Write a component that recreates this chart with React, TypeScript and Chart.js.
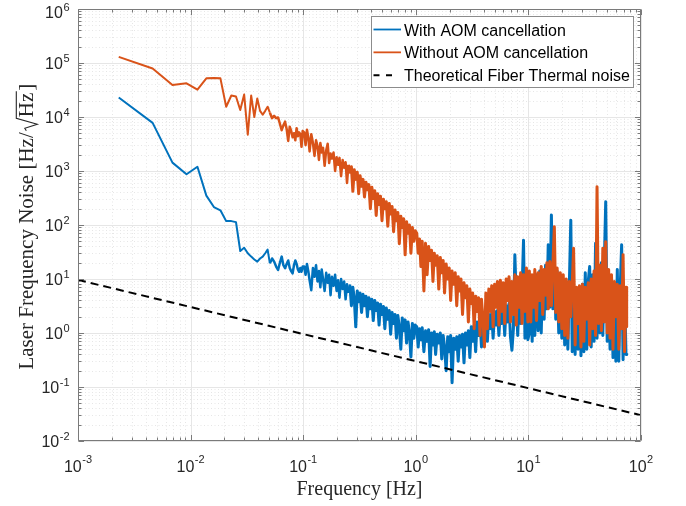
import React, { useEffect, useRef } from "react";
import { Chart, registerables } from "chart.js";

Chart.register(...registerables);

// ---------- data ----------
const freqHz = [
  0.0023, 0.0046, 0.0069, 0.0092, 0.0115, 0.0138, 0.0161, 0.0184, 0.0207, 0.023,
  0.0253, 0.0276, 0.0299, 0.0322, 0.0345, 0.0368, 0.0391, 0.0414, 0.0437, 0.046,
  0.0483, 0.0506, 0.0529, 0.0552, 0.0575, 0.0598, 0.0621, 0.0644, 0.0667, 0.069,
  0.0713, 0.0736, 0.0759, 0.0782, 0.0805, 0.0828, 0.0851, 0.0874, 0.0897, 0.092,
  0.0943, 0.0966, 0.0989,
  0.102, 0.105, 0.108, 0.111, 0.114, 0.118, 0.122, 0.126, 0.13, 0.134, 0.138, 0.142, 0.146, 0.15,
  0.155, 0.16, 0.165, 0.17, 0.175, 0.18, 0.186, 0.192, 0.198, 0.204, 0.21, 0.217, 0.224, 0.231,
  0.238, 0.245, 0.252, 0.26, 0.268, 0.276, 0.284, 0.293, 0.302, 0.311, 0.32, 0.33, 0.34, 0.35,
  0.361, 0.372, 0.383, 0.395, 0.407, 0.419, 0.432, 0.445, 0.458, 0.472, 0.486, 0.501, 0.516,
  0.531, 0.547, 0.564, 0.581, 0.598, 0.616, 0.635, 0.654, 0.673, 0.693, 0.714, 0.736, 0.758,
  0.78, 0.804, 0.828, 0.853, 0.878, 0.905, 0.932, 0.96, 0.989,
  1.02, 1.05, 1.08, 1.11, 1.14, 1.18, 1.22, 1.26, 1.3, 1.34, 1.38, 1.42, 1.46, 1.5,
  1.55, 1.6, 1.65, 1.7, 1.75, 1.8, 1.86, 1.92, 1.98, 2.04, 2.1, 2.17, 2.24, 2.31,
  2.38, 2.45, 2.52, 2.6, 2.68, 2.76, 2.84, 2.93, 3.02, 3.11, 3.2, 3.3, 3.4, 3.5,
  3.61, 3.72, 3.83, 3.95, 4.07, 4.19, 4.32, 4.45, 4.58, 4.72, 4.86, 5.01, 5.16,
  5.31, 5.47, 5.64, 5.81, 5.98, 6.16, 6.35, 6.54, 6.73, 6.93, 7.14, 7.36, 7.58,
  7.8, 8.04, 8.28, 8.53, 8.78, 9.05, 9.32, 9.6, 9.89,
  10.2, 10.5, 10.8, 11.1, 11.4, 11.8, 12.2, 12.6, 13, 13.4, 13.8, 14.2, 14.6, 15,
  15.5, 16, 16.5, 17, 17.5, 18, 18.6, 19.2, 19.8, 20.4, 21, 21.7, 22.4, 23.1,
  23.8, 24.5, 25.2, 26, 26.8, 27.6, 28.4, 29.3, 30.2, 31.1, 32, 33, 34, 35,
  36.1, 37.2, 38.3, 39.5, 40.7, 41.9, 43.2, 44.5, 45.8, 47.2, 48.6, 50.1, 51.6,
  53.1, 54.7, 56.4, 58.1, 59.8, 61.6, 63.5, 65.4, 67.3, 69.3, 71.4, 73.6, 74.6,
];

const withAom = [
  2.3e4, 7.8e3, 1.43e3, 870, 1.2e3, 350, 215, 187, 118, 118,
  113, 33, 38, 30, 26, 23, 21, 24, 26, 30,
  35, 19.5, 24, 21, 17, 14.7, 20, 26, 18, 15.8,
  19, 22, 16, 14, 12.7, 18, 22, 19, 15, 13.6,
  16, 13.6, 17,
  17, 12, 19, 14, 9.5, 6.2, 16, 11, 18, 9,
  14, 7, 15, 10, 6, 13, 8.5, 12, 5, 11,
  7.5, 12, 6, 9.5, 4.5, 10, 6.5, 9, 4.2, 8,
  5.5, 7.5, 3.2, 7, 4.5, 1.3, 6, 3.8, 5.5, 2.4,
  5.2, 3.2, 4.8, 2, 4.5, 2.8, 4.2, 1.7, 4, 2.6,
  3.6, 1.4, 3.4, 2.2, 3.1, 1.2, 2.9, 1.8, 2.6, 0.95,
  2.4, 1.5, 2.2, 0.8, 2.1, 1.3, 0.5, 1.9, 1.1, 1.75,
  0.65, 1.6, 1, 0.36, 1.5, 0.8, 1.4,
  1.3, 0.55, 1.2, 0.75, 1.25, 0.45, 1.1, 0.7, 1.15, 0.24,
  1.0, 0.6, 1.05, 0.4, 0.95, 0.65, 1.0, 0.33, 0.9, 0.55,
  0.2, 0.85, 0.45, 0.9, 0.12, 0.8, 0.5, 0.85, 0.3, 0.9,
  0.55, 0.95, 0.28, 1.0, 0.6, 1.1, 0.35, 1.3, 0.7, 1.4,
  0.45, 1.6, 0.9, 1.7, 0.55, 1.9, 1.1, 2.0, 0.7, 2.2,
  1.2, 2.3, 0.8, 2.5, 1.4, 2.6, 0.9, 2.8, 1.5, 3.0,
  0.9, 3.2, 1.6, 3.5, 0.85, 0.48, 1.2, 28, 4.5, 0.9,
  5, 1.5, 6, 52, 0.8, 7, 0.75,
  1.0, 9, 0.7, 11, 0.9, 12, 1.1, 14, 1.0, 13,
  1.8, 18, 2.8, 43, 3.0, 153, 2.8, 19, 1.8, 14,
  1.0, 12, 0.8, 10, 0.6, 9, 0.5, 8, 123, 0.45,
  7, 0.4, 6.5, 0.5, 7, 0.38, 8, 0.45, 13, 0.5,
  9, 17, 0.55, 12, 0.7, 46, 0.8, 16, 1.0, 20,
  0.9, 18, 270, 0.7, 11, 0.5, 9, 0.35, 8, 0.3,
  15, 0.3, 7, 43, 0.32, 6, 0.4, 0.42,
];

const withoutAom = [
  1.3e5, 7.9e4, 3.9e4, 4.2e4, 3.2e4, 5.2e4, 5.3e4, 5.2e4, 1.55e4, 2.5e4,
  2.4e4, 1.35e4, 2.6e4, 4.7e3, 2.5e4, 1.0e4, 2.2e4, 1.3e4, 1.1e4, 1.3e4,
  1.55e4, 1.2e4, 9.5e3, 1.05e4, 9.5e3, 9.8e3, 7.5e3, 5.7e3, 7e3, 8.2e3,
  6e3, 3.6e3, 6.6e3, 5.5e3, 4.2e3, 5e3, 3.7e3, 6.2e3, 4.4e3, 5.2e3,
  4.8e3, 2.8e3, 5.5e3,
  5200, 3000, 5800, 4200, 2300, 4800, 3300, 1900, 3700, 2900,
  1600, 3300, 2200, 2700, 1250, 2400, 3200, 1400, 2100, 1700,
  2200, 1000, 1800, 1300, 1750, 800, 1600, 1150, 1450, 600,
  1300, 950, 1200, 420, 1050, 700, 950, 380, 820, 520,
  700, 330, 620, 450, 560, 200, 500, 310, 430, 150,
  380, 240, 340, 120, 300, 200, 270, 95, 250, 160,
  220, 75, 190, 120, 170, 45, 145, 90, 130, 28,
  115, 70, 100, 30, 90, 50, 78,
  70, 30, 55, 17, 50, 6, 46, 12, 40, 22,
  34, 9, 30, 18, 27, 6.5, 25, 13, 22, 5.5,
  19, 10, 16, 4, 14, 8, 13, 3.2, 11, 6,
  10, 2.2, 8.5, 4.5, 7.5, 1.6, 6.5, 3.5, 5.5, 1.2,
  4.8, 2.5, 4.5, 0.9, 4.2, 1.8, 0.55, 5.5, 1.2, 6.5,
  2.5, 7.5, 1.3, 8, 3, 9, 1.4, 9.5, 2.5, 8.5,
  1.5, 10, 4, 11, 1.6, 9, 2.2, 12, 1.4, 11,
  3, 13, 1.5, 12, 2.5, 16, 1.6,
  14, 1.6, 12, 3, 15, 1.7, 13, 4, 17, 2.2,
  15, 5, 20, 2.8, 21, 3.2, 19, 93, 2.4, 16,
  1.6, 13, 1.2, 12, 0.9, 10, 0.8, 9, 2, 8,
  37, 0.6, 7, 1.5, 7.5, 0.55, 8, 0.7, 7, 1.8,
  8.5, 0.6, 10, 1.2, 14, 0.9, 510, 1.5, 18, 1.1,
  37, 1.6, 49, 1, 15, 0.8, 12, 0.5, 9, 2,
  8, 0.5, 7.5, 1.2, 28, 0.45, 7, 1.3,
];

const thermalFreqHz = [0.001, 100];
const thermalNoise = [9.6, 0.03];

const seriesNames = [
  "With AOM cancellation",
  "Without AOM cancellation",
  "Theoretical Fiber Thermal noise",
];
const seriesColors = ["#0072BD", "#D95319", "#000000"];

const xTickValues = [1e-3, 1e-2, 1e-1, 1, 10, 100];
const xTickExponents = ["-3", "-2", "-1", "0", "1", "2"];
const yTickValues = [1e-2, 1e-1, 1, 10, 100, 1e3, 1e4, 1e5, 1e6];
const yTickExponents = ["-2", "-1", "0", "1", "2", "3", "4", "5", "6"];
const tickBase = "10";
const xTitle = "Frequency [Hz]";
const yTitleLead = "Laser Frequency Noise [Hz/";
const yTitleRoot = "Hz";
const yTitleTail = "]";

// ---------- styling ----------
const SANS = '"Liberation Sans", Arial, Helvetica, sans-serif';
const SERIF = '"Liberation Serif", "Times New Roman", serif';
const AXIS_COLOR = "#7a7a7a";
const TEXT_COLOR = "#262626";

// dense FFT noise reads as a thick band: stroke it wider where the spectrum is dense
const noiseWidth = (ctx: any) => {
  const f = ctx.p0.parsed.x;
  if (f < 0.05) return 2.0;
  if (f < 0.25) return 2.5;
  return 3.0;
};

function minorValues(majors: number[]) {
  const out: number[] = [];
  for (let i = 0; i < majors.length - 1; i++) {
    for (let m = 2; m <= 9; m++) out.push(m * majors[i]);
  }
  return out;
}

const matlabAxes = {
  id: "matlabAxes",
  beforeDatasetsDraw(chart: any) {
    const { ctx, chartArea: a, scales } = chart;
    const xs = scales.x;
    const ys = scales.y;
    ctx.save();
    ctx.lineWidth = 1;
    ctx.strokeStyle = "#e6e6e6";
    ctx.setLineDash([1, 2.5]);
    ctx.beginPath();
    for (const v of minorValues(xTickValues)) {
      const p = Math.round(xs.getPixelForValue(v)) + 0.5;
      ctx.moveTo(p, a.top);
      ctx.lineTo(p, a.bottom);
    }
    for (const v of minorValues(yTickValues)) {
      const p = Math.round(ys.getPixelForValue(v)) + 0.5;
      ctx.moveTo(a.left, p);
      ctx.lineTo(a.right, p);
    }
    ctx.stroke();
    ctx.setLineDash([]);
    ctx.strokeStyle = "#e6e6e6";
    ctx.beginPath();
    for (const v of xTickValues) {
      const p = Math.round(xs.getPixelForValue(v)) + 0.5;
      ctx.moveTo(p, a.top);
      ctx.lineTo(p, a.bottom);
    }
    for (const v of yTickValues) {
      const p = Math.round(ys.getPixelForValue(v)) + 0.5;
      ctx.moveTo(a.left, p);
      ctx.lineTo(a.right, p);
    }
    ctx.stroke();
    ctx.restore();
  },
  afterDraw(chart: any) {
    const { ctx, chartArea: a, scales } = chart;
    const xs = scales.x;
    const ys = scales.y;
    const L = Math.round(a.left) + 0.5;
    const R = Math.round(a.right) - 0.5;
    const T = Math.round(a.top) + 0.5;
    const B = Math.round(a.bottom) - 0.5;
    ctx.save();

    ctx.strokeStyle = AXIS_COLOR;
    ctx.lineWidth = 1;
    ctx.setLineDash([]);
    ctx.beginPath();
    ctx.rect(L, T, R - L, B - T);
    const tick = (vals: number[], len: number) => {
      for (const v of vals) {
        const px = Math.round(xs.getPixelForValue(v)) + 0.5;
        ctx.moveTo(px, B);
        ctx.lineTo(px, B - len);
        ctx.moveTo(px, T);
        ctx.lineTo(px, T + len);
      }
    };
    const tickY = (vals: number[], len: number) => {
      for (const v of vals) {
        const py = Math.round(ys.getPixelForValue(v)) + 0.5;
        ctx.moveTo(L, py);
        ctx.lineTo(L + len, py);
        ctx.moveTo(R, py);
        ctx.lineTo(R - len, py);
      }
    };
    tick(xTickValues, 5.5);
    tick(minorValues(xTickValues), 3);
    tickY(yTickValues, 5.5);
    tickY(minorValues(yTickValues), 3);
    ctx.stroke();

    ctx.fillStyle = TEXT_COLOR;
    ctx.textBaseline = "alphabetic";
    ctx.textAlign = "left";
    const baseFont = `16px ${SANS}`;
    const expFont = `11px ${SANS}`;
    xTickValues.forEach((v, i) => {
      const px = xs.getPixelForValue(v);
      ctx.font = baseFont;
      const w1 = ctx.measureText(tickBase).width;
      ctx.font = expFont;
      const w2 = ctx.measureText(xTickExponents[i]).width;
      const left = px - (w1 + w2 + 0.5) / 2;
      ctx.font = baseFont;
      ctx.fillText(tickBase, left, a.bottom + 30.7);
      ctx.font = expFont;
      ctx.fillText(xTickExponents[i], left + w1 + 0.5, a.bottom + 22.3);
    });
    yTickValues.forEach((v, i) => {
      const py = ys.getPixelForValue(v);
      ctx.font = baseFont;
      const w1 = ctx.measureText(tickBase).width;
      ctx.font = expFont;
      const w2 = ctx.measureText(yTickExponents[i]).width;
      const right = a.left - 8.5;
      const left = right - w1 - w2 - 0.5;
      let baseY = py + 6.3;
      let expY = py - 1.3;
      const shift = Math.max(0, 2.7 - (expY - 8));
      baseY += shift;
      expY += shift;
      ctx.font = baseFont;
      ctx.fillText(tickBase, left, baseY);
      ctx.font = expFont;
      ctx.fillText(yTickExponents[i], left + w1 + 0.5, expY);
    });

    ctx.font = `20px ${SERIF}`;
    ctx.textAlign = "center";
    ctx.fillText(xTitle, (a.left + a.right) / 2, a.bottom + 54);

    ctx.save();
    ctx.translate(33.3, (a.top + a.bottom) / 2 + 1.7);
    ctx.rotate(-Math.PI / 2);
    ctx.textAlign = "left";
    ctx.font = `21px ${SERIF}`;
    const wLead = ctx.measureText(yTitleLead).width;
    const wRoot = ctx.measureText(yTitleRoot).width;
    const wTail = ctx.measureText(yTitleTail).width;
    const radW = 15;
    const total = wLead + radW + wRoot + 2 + wTail;
    let x0 = -total / 2;
    ctx.fillText(yTitleLead, x0, 0);
    x0 += wLead;
    ctx.strokeStyle = TEXT_COLOR;
    ctx.lineWidth = 1.1;
    ctx.beginPath();
    ctx.moveTo(x0 + 1.5, -7);
    ctx.lineTo(x0 + 4, -8.5);
    ctx.lineTo(x0 + 8, 4);
    ctx.lineTo(x0 + 14, -17);
    ctx.lineTo(x0 + radW + wRoot + 1.5, -17);
    ctx.stroke();
    x0 += radW;
    ctx.fillText(yTitleRoot, x0, 0);
    x0 += wRoot + 2;
    ctx.fillText(yTitleTail, x0, 0);
    ctx.restore();

    const lx = Math.round(a.right - 270.3) + 0.5;
    const ly = Math.round(a.top + 7) + 0.5;
    const lw = 262;
    const lh = 71;
    ctx.fillStyle = "#ffffff";
    ctx.fillRect(lx, ly, lw, lh);
    ctx.strokeStyle = "#8c8c8c";
    ctx.lineWidth = 1;
    ctx.strokeRect(lx, ly, lw, lh);
    chart.data.datasets.forEach((ds: any, i: number) => {
      const dashed = ds.borderDash && ds.borderDash.length;
      const cy = ly + 13 + i * 22.85;
      ctx.strokeStyle = ds.borderColor;
      ctx.lineWidth = dashed ? 2 : 1.8;
      ctx.setLineDash(dashed ? [6, 6.5] : []);
      ctx.beginPath();
      ctx.moveTo(lx + 2, cy);
      ctx.lineTo(lx + (dashed ? 22 : 29.5), cy);
      ctx.stroke();
      ctx.setLineDash([]);
      ctx.fillStyle = "#000000";
      ctx.font = `16px ${SANS}`;
      ctx.textAlign = "left";
      ctx.fillText(ds.label, lx + 32.5, cy + 6);
    });

    ctx.restore();
  },
};

export default function App() {
  const canvasRef = useRef<HTMLCanvasElement | null>(null);

  useEffect(() => {
    const canvas = canvasRef.current;
    if (!canvas) return;
    const chart = new Chart(canvas, {
      type: "line",
      data: {
        datasets: [
          {
            label: seriesNames[0],
            data: freqHz.map((f, i) => ({ x: f, y: withAom[i] })),
            borderColor: seriesColors[0],
            backgroundColor: seriesColors[0],
            borderWidth: 2,
            segment: { borderWidth: noiseWidth },
            pointRadius: 0,
            borderJoinStyle: "round",
            tension: 0,
            order: 3,
          },
          {
            label: seriesNames[1],
            data: freqHz.map((f, i) => ({ x: f, y: withoutAom[i] })),
            borderColor: seriesColors[1],
            backgroundColor: seriesColors[1],
            borderWidth: 2,
            segment: { borderWidth: noiseWidth },
            pointRadius: 0,
            borderJoinStyle: "round",
            tension: 0,
            order: 2,
          },
          {
            label: seriesNames[2],
            data: thermalFreqHz.map((f, i) => ({ x: f, y: thermalNoise[i] })),
            borderColor: seriesColors[2],
            backgroundColor: seriesColors[2],
            borderWidth: 2,
            borderDash: [8, 5],
            pointRadius: 0,
            tension: 0,
            order: 1,
          },
        ],
      },
      options: {
        responsive: false,
        animation: false,
        events: [],
        layout: { padding: { left: 0, right: 45, top: 9, bottom: 0 } },
        plugins: {
          legend: { display: false },
          tooltip: { enabled: false },
          title: { display: false },
        },
        scales: {
          x: {
            type: "logarithmic",
            min: 1e-3,
            max: 1e2,
            position: "bottom",
            grid: { display: false },
            border: { display: false },
            ticks: { display: false },
            afterFit: (s: any) => {
              s.height = 65;
            },
          },
          y: {
            type: "logarithmic",
            min: 1e-2,
            max: 1e6,
            position: "left",
            grid: { display: false },
            border: { display: false },
            ticks: { display: false },
            afterFit: (s: any) => {
              s.width = 78;
            },
          },
        },
      } as any,
      plugins: [matlabAxes],
    });
    return () => chart.destroy();
  }, []);

  return (
    <div
      style={{
        position: "absolute",
        left: 0,
        top: 0,
        width: 686,
        height: 506,
        background: "#ffffff",
      }}
    >
      <canvas ref={canvasRef} width={686} height={506} style={{ display: "block" }} />
    </div>
  );
}
